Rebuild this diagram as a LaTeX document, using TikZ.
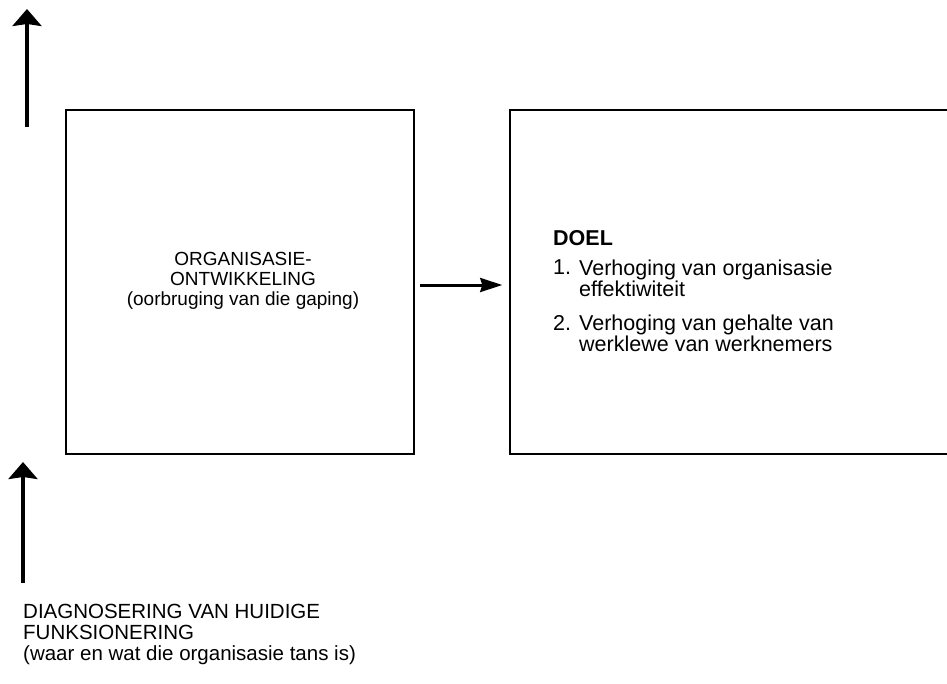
\documentclass[tikz,border=0pt]{standalone}
\usepackage{fontspec}
\setmainfont{Liberation Sans}
\usetikzlibrary{arrows.meta}

\tikzset{
  box/.style={draw=black, line width=1.5pt, inner sep=0pt},
  boxtext/.style={font=\fontsize{19}{20}\selectfont, align=center},
  listtext/.style={font=\fontsize{21.5}{20}\selectfont, align=left, inner sep=0pt},
  diagtext/.style={font=\fontsize{20.5}{21}\selectfont, align=left, inner sep=0pt},
  bigarrow/.style={line width=3.5pt, -{Stealth[length=17pt,width=29pt,inset=2pt]}},
  midarrow/.style={line width=3pt, -{Stealth[length=22pt,width=14pt,inset=2pt]}},
}

\begin{document}
\begin{tikzpicture}[x=1pt,y=-1pt]
    \useasboundingbox (0,0) rectangle (947,683);
    \clip (0,0) rectangle (947,683);
    % the two boxes
    \node[box, minimum width=348pt, minimum height=344pt] (ontw) at (240,282) {};
    \node[box, minimum width=460pt, minimum height=344pt] (doelbox) at (740,282) {};
    \node[boxtext] (ontwtext) at (243,281) {ORGANISASIE-\\ONTWIKKELING\\(oorbruging van die gaping)};
    % goal text
    \node[listtext, anchor=north west] (doel) at (553,230) {\textbf{DOEL}};
    \node[listtext, anchor=north west] (num1) at (553,260) {1.};
    \node[listtext, anchor=north west] (item1) at (579,260) {Verhoging van organisasie\\effektiwiteit};
    \node[listtext, anchor=north west] (num2) at (553,315) {2.};
    \node[listtext, anchor=north west] (item2) at (579,315) {Verhoging van gehalte van\\werklewe van werknemers};
    % diagnosis
    \node[diagtext, anchor=north west] (diag) at (23,604) {DIAGNOSERING VAN HUIDIGE\\FUNKSIONERING\\(waar en wat die organisasie tans is)};
    \coordinate (topfoot) at (27,127);
    \coordinate (toptip) at (27,9);
    \coordinate (lowfoot) at (23,583);
    \coordinate (lowtip) at (23,462);
    \draw[bigarrow] (topfoot) -- (toptip);
    \draw[bigarrow] (lowfoot) -- (lowtip);
    \draw[midarrow, shorten <=5pt, shorten >=7pt] ([yshift=-3pt]ontw.east) -- ([yshift=-3pt]doelbox.west);
\end{tikzpicture}
\end{document}
